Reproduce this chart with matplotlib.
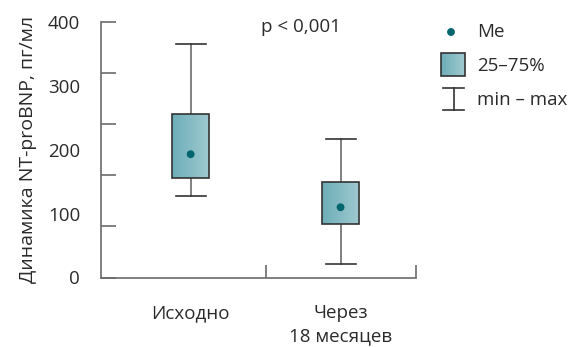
import numpy as np
import matplotlib
matplotlib.use("Agg")
import matplotlib.pyplot as plt
from matplotlib.patches import Rectangle
from matplotlib.lines import Line2D
from matplotlib.colors import LinearSegmentedColormap

# ---- data ----
categories = ["Исходно", "Через\n18 месяцев"]
mins = [127, 21]
q1s = [155, 84]
medians = [193, 110]
q3s = [256, 149]
maxs = [365, 217]
ytick_labels = [0, 100, 200, 300, 400]
p_text = "p < 0,001"

plt.rcParams['font.family'] = ['Open Sans', 'DejaVu Sans']
FS = 13.5
TXT = '#2a2a2a'
GR = '#6b6b6b'
W, H = 572, 347
fig = plt.figure(figsize=(W / 100, H / 100), dpi=100)
ax = fig.add_axes([101 / W, 69.5 / H, (415.5 - 101) / W, (277.5 - 22) / H])

pos = np.arange(len(categories))
stats = []
for i in range(len(categories)):
    stats.append(dict(med=medians[i], q1=q1s[i], q3=q3s[i], whislo=mins[i], whishi=maxs[i], fliers=[]))

bw = 0.247
res = ax.bxp(stats, positions=pos, widths=bw, patch_artist=True, showfliers=False,
             capwidths=0.2,
             boxprops=dict(facecolor='none', edgecolor='#333333', linewidth=1.2, zorder=4),
             whiskerprops=dict(color=GR, linewidth=1.2),
             capprops=dict(color='#333333', linewidth=1.2),
             medianprops=dict(linewidth=0))

grad = np.linspace(0, 1, 64).reshape(1, -1)
cmap = LinearSegmentedColormap.from_list('tg', ['#6eaeb8', '#9fc9d0'])
for i, b in enumerate(res['boxes']):
    im = ax.imshow(grad, cmap=cmap, aspect='auto', zorder=3,
                   extent=[pos[i] - bw / 2, pos[i] + bw / 2, q1s[i], q3s[i]], interpolation='bilinear')
    im.set_clip_path(b)

ax.scatter(pos, medians, s=32, color='#00666e', zorder=6, edgecolors='none')

ax.set_xlim(-0.598, 1.5)
ax.set_ylim(0, 400)
ax.set_aspect('auto')
for s in ['top', 'right']:
    ax.spines[s].set_visible(False)
for s in ['left', 'bottom']:
    ax.spines[s].set_color(GR)
    ax.spines[s].set_linewidth(1.2)

# y ticks: marks every 80, labels every 100
ax.set_yticks(np.arange(0, 401, 80))
ax.yaxis.set_ticklabels([])
ax.set_yticks(ytick_labels, minor=True)
ax.yaxis.set_ticklabels([str(v) for v in ytick_labels], minor=True)
ax.yaxis.remove_overlapping_locs = False
ax.tick_params(axis='y', which='major', direction='in', length=10.8, width=1.2, color=GR)
ax.tick_params(axis='y', which='minor', length=0, pad=15, labelsize=FS, labelcolor=TXT)

# x ticks: dividers
ax.set_xticks([0.5, 1.5])
ax.set_xticklabels([])
ax.set_xticks(pos, minor=True)
ax.set_xticklabels(categories, minor=True)
ax.xaxis.remove_overlapping_locs = False
ax.tick_params(axis='x', which='major', direction='in', length=9.4, width=1.2, color=GR)
ax.tick_params(axis='x', which='minor', length=0, pad=19, labelsize=FS, labelcolor=TXT)
for lbl in ax.get_xticklabels(minor=True):
    lbl.set_linespacing(1.35)

ax.set_ylabel("Динамика NT-proBNP, пг/мл", fontsize=14, color=TXT, labelpad=8)

ax.text((301 - 101) / (415.5 - 101), 1.0 - 5 / 255.5, p_text, transform=ax.transAxes,
        ha='center', va='center', fontsize=FS, color=TXT)

# ---- legend (overlay in pixel coords) ----
lg = fig.add_axes([0, 0, 1, 1])
lg.axis('off')
lg.scatter([451], [32], s=32, color='#00666e', edgecolors='none')
sq = Rectangle((441, 53), 24, 23, facecolor='none', edgecolor='#333333', linewidth=1.2, zorder=4)
lg.add_patch(sq)
im2 = lg.imshow(grad, cmap=cmap, aspect='auto', extent=[441, 465, 76, 53], zorder=3)
im2.set_clip_path(sq)
lg.add_line(Line2D([443, 464], [88, 88], color='#333333', lw=1.2))
lg.add_line(Line2D([443, 464], [110, 110], color='#333333', lw=1.2))
lg.add_line(Line2D([453.5, 453.5], [88, 110], color='#333333', lw=1.2))
lg.set_xlim(0, W)
lg.set_ylim(H, 0)
lg.text(477, 32, "Me", va='center', ha='left', fontsize=FS, color=TXT)
lg.text(477, 66, "25–75%", va='center', ha='left', fontsize=FS, color=TXT)
lg.text(477, 100, "min – max", va='center', ha='left', fontsize=FS, color=TXT)

fig.savefig("out.png", dpi=100)
